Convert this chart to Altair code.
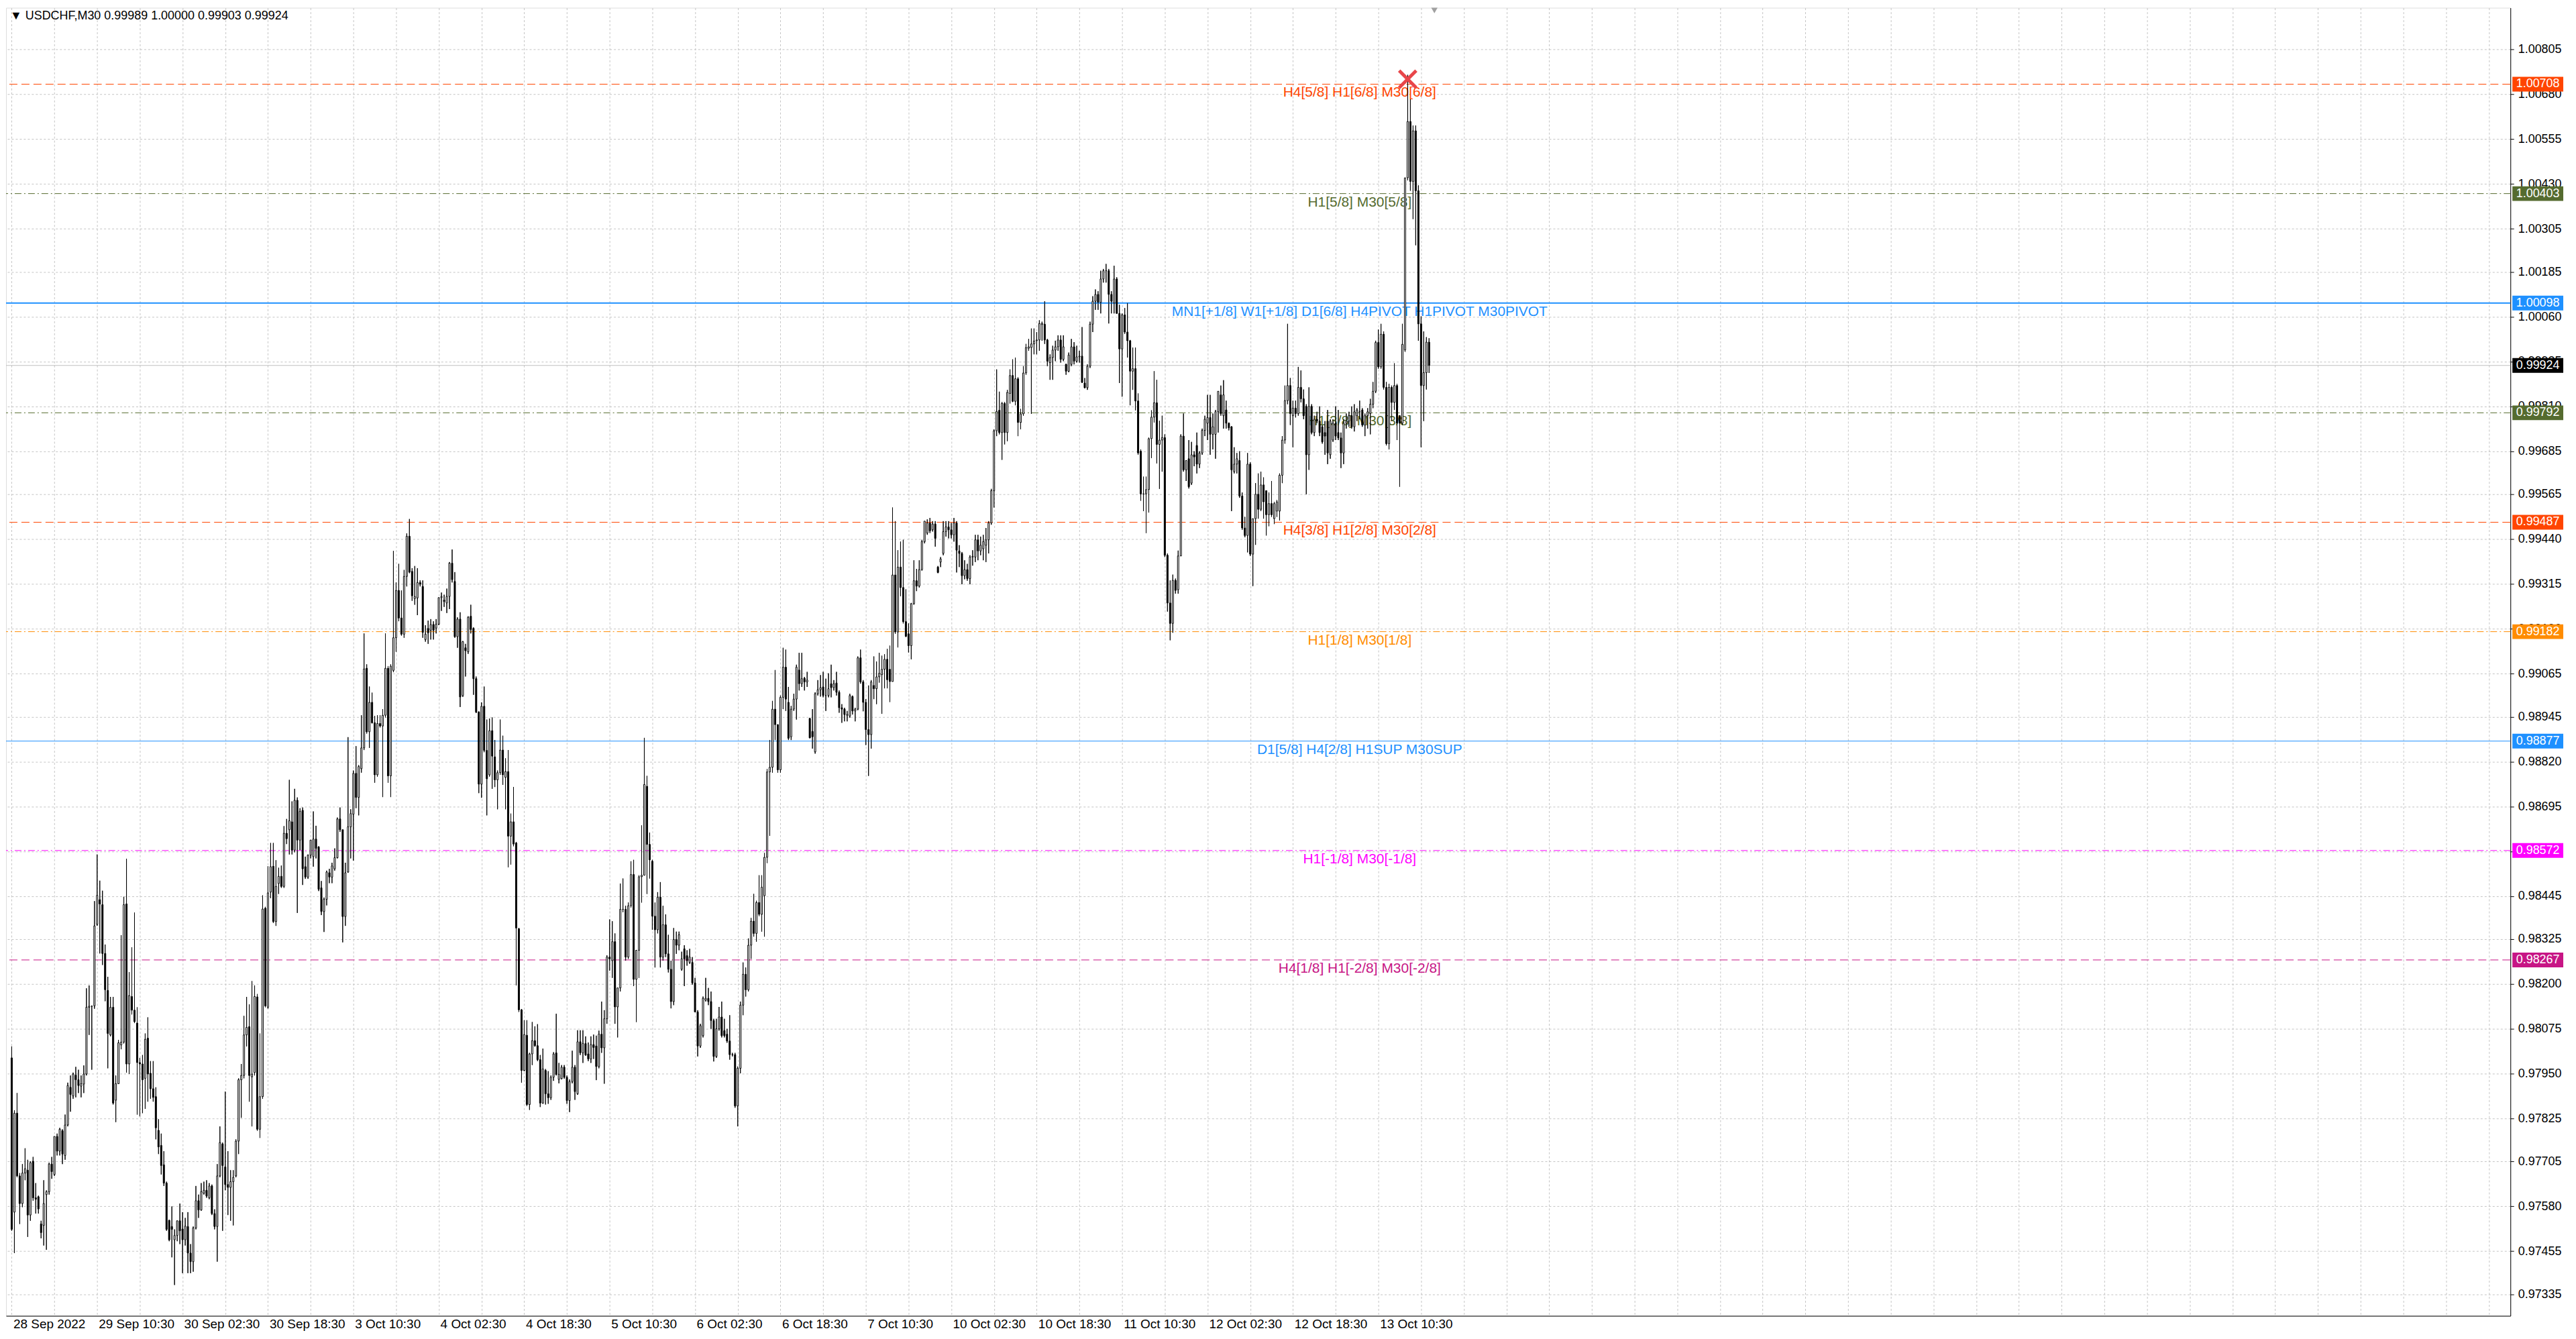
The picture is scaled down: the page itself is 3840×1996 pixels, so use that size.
import json
import numpy as np
import pandas as pd
import altair as alt

# ---------------- data: USDCHF M30 candles (bar index 0 = 28 Sep 2022 18:30) ----------------
OPEN = [
0.97994, 0.97564, 0.97840, 0.97665, 0.97588, 0.97673, 0.97681, 0.97556, 0.97706, 0.97604,
0.97607, 0.97531, 0.97527, 0.97613, 0.97621, 0.97698, 0.97669, 0.97775, 0.97734, 0.97791,
0.97722, 0.97807, 0.97912, 0.97888, 0.97946, 0.97933, 0.97915, 0.97921, 0.97949, 0.98135,
0.98138, 0.98139, 0.98366, 0.98435, 0.98421, 0.98285, 0.98182, 0.98058, 0.98135, 0.97876,
0.97922, 0.98030, 0.98038, 0.98423, 0.97977, 0.98165, 0.98127, 0.98091, 0.97981, 0.97977,
0.97937, 0.98049, 0.97951, 0.97908, 0.97886, 0.97792, 0.97750, 0.97696, 0.97645, 0.97541,
0.97524, 0.97487, 0.97499, 0.97540, 0.97517, 0.97487, 0.97524, 0.97450, 0.97426, 0.97520,
0.97596, 0.97570, 0.97617, 0.97625, 0.97604, 0.97637, 0.97560, 0.97524, 0.97665, 0.97754,
0.97690, 0.97641, 0.97633, 0.97649, 0.97665, 0.97762, 0.97933, 0.97945, 0.98058, 0.98081,
0.97941, 0.97953, 0.98164, 0.97795, 0.97886, 0.98411, 0.98135, 0.98456, 0.98528, 0.98374,
0.98480, 0.98500, 0.98472, 0.98620, 0.98630, 0.98652, 0.98573, 0.98712, 0.98601, 0.98684,
0.98527, 0.98498, 0.98559, 0.98555, 0.98604, 0.98582, 0.98468, 0.98402, 0.98436, 0.98510,
0.98498, 0.98521, 0.98552, 0.98660, 0.98630, 0.98388, 0.98512, 0.98638, 0.98673, 0.98787,
0.98720, 0.98800, 0.98858, 0.99080, 0.98903, 0.98985, 0.98928, 0.98783, 0.98926, 0.98919,
0.98949, 0.99080, 0.98780, 0.99074, 0.99165, 0.99297, 0.99220, 0.99175, 0.99336, 0.99448,
0.99350, 0.99274, 0.99276, 0.99319, 0.99308, 0.99160, 0.99191, 0.99186, 0.99202, 0.99192,
0.99203, 0.99277, 0.99270, 0.99262, 0.99280, 0.99373, 0.99322, 0.99168, 0.99217, 0.99004,
0.99137, 0.99126, 0.99225, 0.99191, 0.99051, 0.98958, 0.98757, 0.98974, 0.98851, 0.98783,
0.98906, 0.98833, 0.98769, 0.98789, 0.98852, 0.98776, 0.98792, 0.98612, 0.98652, 0.98593,
0.98354, 0.98128, 0.97959, 0.98057, 0.97864, 0.98005, 0.98042, 0.98028, 0.97989, 0.97868,
0.97959, 0.97894, 0.97883, 0.97940, 0.98008, 0.97934, 0.97936, 0.97968, 0.97940, 0.97875,
0.97928, 0.97968, 0.97894, 0.98039, 0.98008, 0.98034, 0.98005, 0.97991, 0.98031, 0.98027,
0.97970, 0.98060, 0.98022, 0.98103, 0.98275, 0.98265, 0.98318, 0.98136, 0.98189, 0.98408,
0.98408, 0.98275, 0.98418, 0.98505, 0.98213, 0.98294, 0.98499, 0.98503, 0.98751, 0.98589,
0.98542, 0.98389, 0.98351, 0.98442, 0.98275, 0.98365, 0.98284, 0.98241, 0.98151, 0.98324,
0.98308, 0.98241, 0.98298, 0.98279, 0.98260, 0.98260, 0.98203, 0.98122, 0.98027, 0.98056,
0.98155, 0.98160, 0.98151, 0.98098, 0.97998, 0.98075, 0.98108, 0.98070, 0.98060, 0.98041,
0.98003, 0.98003, 0.97860, 0.97965, 0.98141, 0.98227, 0.98184, 0.98308, 0.98375, 0.98341,
0.98427, 0.98394, 0.98446, 0.98553, 0.98791, 0.98804, 0.98966, 0.98923, 0.98797, 0.98999,
0.99083, 0.98985, 0.98889, 0.98966, 0.98994, 0.99075, 0.99037, 0.99052, 0.99042, 0.98940,
0.98904, 0.98847, 0.99009, 0.99020, 0.99028, 0.99004, 0.99004, 0.99037, 0.99026, 0.99039,
0.99013, 0.98970, 0.98966, 0.98949, 0.98947, 0.99001, 0.98961, 0.98966, 0.99109, 0.99042,
0.98985, 0.98909, 0.98895, 0.99032, 0.99023, 0.99056, 0.99062, 0.99077, 0.99105, 0.99077,
0.99043, 0.99340, 0.99181, 0.99362, 0.99305, 0.99210, 0.99176, 0.99143, 0.99260, 0.99324,
0.99309, 0.99355, 0.99433, 0.99457, 0.99485, 0.99466, 0.99482, 0.99362, 0.99376, 0.99400,
0.99461, 0.99474, 0.99466, 0.99452, 0.99485, 0.99407, 0.99400, 0.99338, 0.99355, 0.99330,
0.99390, 0.99390, 0.99438, 0.99407, 0.99413, 0.99423, 0.99438, 0.99485, 0.99575, 0.99742,
0.99799, 0.99737, 0.99818, 0.99737, 0.99846, 0.99896, 0.99824, 0.99887, 0.99765, 0.99789,
0.99903, 0.99972, 0.99974, 0.99984, 0.99993, 0.99995, 1.00038, 1.00039, 0.99995, 0.99932,
0.99946, 0.99967, 0.99976, 0.99995, 0.99941, 0.99927, 0.99908, 0.99927, 0.99976, 0.99936,
0.99948, 0.99950, 0.99875, 0.99862, 0.99922, 1.00039, 1.00103, 1.00122, 1.00100, 1.00165,
1.00188, 1.00188, 1.00122, 1.00098, 1.00165, 1.00069, 0.99970, 1.00065, 1.00017, 0.99993,
0.99908, 0.99915, 0.99825, 0.99685, 0.99566, 0.99566, 0.99578, 0.99720, 0.99780, 0.99820,
0.99704, 0.99716, 0.99723, 0.99395, 0.99262, 0.99205, 0.99325, 0.99299, 0.99393, 0.99727,
0.99633, 0.99664, 0.99596, 0.99675, 0.99701, 0.99649, 0.99680, 0.99743, 0.99763, 0.99779,
0.99732, 0.99732, 0.99795, 0.99842, 0.99784, 0.99800, 0.99763, 0.99753, 0.99628, 0.99649,
0.99659, 0.99560, 0.99471, 0.99450, 0.99649, 0.99398, 0.99497, 0.99565, 0.99523, 0.99591,
0.99575, 0.99508, 0.99539, 0.99497, 0.99518, 0.99518, 0.99618, 0.99716, 0.99826, 0.99868,
0.99784, 0.99805, 0.99790, 0.99863, 0.99831, 0.99810, 0.99675, 0.99810, 0.99737, 0.99774,
0.99769, 0.99753, 0.99737, 0.99769, 0.99675, 0.99716, 0.99763, 0.99737, 0.99722, 0.99680,
0.99763, 0.99769, 0.99784, 0.99753, 0.99784, 0.99795, 0.99800, 0.99758, 0.99784, 0.99790,
0.99816, 0.99852, 0.99988, 0.99920, 1.00011, 0.99863, 0.99706, 0.99863, 0.99821, 0.99868,
0.99784, 0.99763, 0.99967, 1.00447, 1.00604, 1.00437, 1.00578, 1.00411, 1.00040, 0.99868,
0.99904, 0.99989,
]

HIGH = [
0.98026, 0.97848, 0.97896, 0.97673, 0.97698, 0.97742, 0.97710, 0.97706, 0.97718, 0.97645,
0.97610, 0.97540, 0.97653, 0.97625, 0.97702, 0.97718, 0.97775, 0.97783, 0.97799, 0.97795,
0.97836, 0.97925, 0.97945, 0.97953, 0.97969, 0.97961, 0.97945, 0.97973, 0.98188, 0.98196,
0.98140, 0.98431, 0.98561, 0.98488, 0.98460, 0.98310, 0.98220, 0.98164, 0.98164, 0.97945,
0.98044, 0.98336, 0.98443, 0.98549, 0.98233, 0.98302, 0.98399, 0.98135, 0.97994, 0.98002,
0.98062, 0.98107, 0.97985, 0.97985, 0.97912, 0.97823, 0.97783, 0.97734, 0.97649, 0.97543,
0.97580, 0.97516, 0.97540, 0.97588, 0.97564, 0.97548, 0.97564, 0.97475, 0.97524, 0.97637,
0.97613, 0.97645, 0.97649, 0.97653, 0.97645, 0.97641, 0.97572, 0.97698, 0.97803, 0.97758,
0.97900, 0.97734, 0.97681, 0.97681, 0.97767, 0.97937, 0.97977, 0.98111, 0.98164, 0.98143,
0.98208, 0.98196, 0.98172, 0.98062, 0.98447, 0.98415, 0.98528, 0.98593, 0.98593, 0.98545,
0.98524, 0.98530, 0.98640, 0.98660, 0.98769, 0.98709, 0.98744, 0.98720, 0.98690, 0.98692,
0.98555, 0.98561, 0.98601, 0.98681, 0.98641, 0.98584, 0.98487, 0.98441, 0.98516, 0.98521,
0.98538, 0.98578, 0.98664, 0.98692, 0.98630, 0.98538, 0.98888, 0.98687, 0.98795, 0.98863,
0.98810, 0.98949, 0.99177, 0.99091, 0.99029, 0.99012, 0.98947, 0.98949, 0.98949, 0.98966,
0.99177, 0.99086, 0.99091, 0.99407, 0.99319, 0.99371, 0.99297, 0.99354, 0.99456, 0.99496,
0.99359, 0.99365, 0.99359, 0.99325, 0.99325, 0.99200, 0.99213, 0.99217, 0.99211, 0.99217,
0.99277, 0.99291, 0.99285, 0.99302, 0.99376, 0.99411, 0.99348, 0.99222, 0.99236, 0.99156,
0.99148, 0.99225, 0.99257, 0.99194, 0.99057, 0.98960, 0.98985, 0.99029, 0.98937, 0.98940,
0.98943, 0.98880, 0.98795, 0.98937, 0.98892, 0.98829, 0.98852, 0.98675, 0.98749, 0.98596,
0.98356, 0.98130, 0.98099, 0.98099, 0.98008, 0.98094, 0.98082, 0.98088, 0.98002, 0.98020,
0.97963, 0.97957, 0.97945, 0.98010, 0.98117, 0.97980, 0.97974, 0.97974, 0.97945, 0.97934,
0.98014, 0.97974, 0.98071, 0.98071, 0.98071, 0.98054, 0.98037, 0.98054, 0.98059, 0.98056,
0.98070, 0.98151, 0.98127, 0.98280, 0.98380, 0.98375, 0.98341, 0.98189, 0.98480, 0.98494,
0.98418, 0.98427, 0.98542, 0.98546, 0.98294, 0.98503, 0.98642, 0.98886, 0.98780, 0.98622,
0.98546, 0.98427, 0.98456, 0.98484, 0.98418, 0.98394, 0.98337, 0.98265, 0.98356, 0.98346,
0.98346, 0.98290, 0.98308, 0.98294, 0.98298, 0.98275, 0.98217, 0.98127, 0.98089, 0.98165,
0.98217, 0.98189, 0.98179, 0.98103, 0.98103, 0.98136, 0.98151, 0.98103, 0.98075, 0.98113,
0.98008, 0.98008, 0.97970, 0.98151, 0.98260, 0.98246, 0.98327, 0.98384, 0.98451, 0.98432,
0.98503, 0.98503, 0.98565, 0.98799, 0.98880, 0.98989, 0.99075, 0.98923, 0.99004, 0.99137,
0.99132, 0.99028, 0.98975, 0.99009, 0.99090, 0.99123, 0.99123, 0.99056, 0.99070, 0.98942,
0.98966, 0.99013, 0.99047, 0.99061, 0.99070, 0.99051, 0.99066, 0.99090, 0.99047, 0.99070,
0.99018, 0.98980, 0.98970, 0.98961, 0.99009, 0.99004, 0.98970, 0.99113, 0.99132, 0.99047,
0.98994, 0.99032, 0.99047, 0.99113, 0.99099, 0.99123, 0.99115, 0.99119, 0.99134, 0.99143,
0.99528, 0.99490, 0.99409, 0.99433, 0.99438, 0.99300, 0.99205, 0.99262, 0.99381, 0.99357,
0.99381, 0.99438, 0.99490, 0.99495, 0.99499, 0.99490, 0.99490, 0.99365, 0.99390, 0.99490,
0.99490, 0.99490, 0.99485, 0.99499, 0.99490, 0.99423, 0.99404, 0.99381, 0.99371, 0.99395,
0.99409, 0.99452, 0.99452, 0.99447, 0.99452, 0.99471, 0.99490, 0.99580, 0.99746, 0.99913,
0.99851, 0.99822, 0.99822, 0.99856, 0.99913, 0.99941, 0.99946, 0.99891, 0.99803, 0.99922,
0.99984, 0.99998, 1.00027, 1.00027, 1.00017, 1.00050, 1.00046, 1.00103, 0.99998, 0.99955,
0.99979, 0.99993, 1.00008, 1.00008, 1.00008, 0.99929, 0.99960, 0.99998, 0.99989, 0.99979,
0.99965, 1.00031, 0.99889, 0.99927, 1.00046, 1.00117, 1.00136, 1.00131, 1.00188, 1.00193,
1.00207, 1.00193, 1.00131, 1.00202, 1.00170, 1.00093, 1.00069, 1.00084, 1.00098, 0.99995,
0.99974, 0.99974, 0.99846, 0.99690, 0.99614, 0.99614, 0.99723, 0.99799, 0.99908, 0.99884,
0.99770, 0.99784, 0.99732, 0.99400, 0.99325, 0.99341, 0.99330, 0.99408, 0.99732, 0.99790,
0.99659, 0.99716, 0.99711, 0.99685, 0.99737, 0.99685, 0.99748, 0.99784, 0.99842, 0.99842,
0.99790, 0.99800, 0.99852, 0.99868, 0.99883, 0.99826, 0.99765, 0.99755, 0.99696, 0.99680,
0.99685, 0.99570, 0.99502, 0.99680, 0.99654, 0.99497, 0.99596, 0.99623, 0.99628, 0.99612,
0.99575, 0.99570, 0.99602, 0.99544, 0.99549, 0.99623, 0.99727, 0.99868, 1.00040, 0.99889,
0.99826, 0.99826, 0.99920, 0.99910, 0.99857, 0.99816, 0.99863, 0.99816, 0.99784, 0.99795,
0.99810, 0.99758, 0.99769, 0.99800, 0.99774, 0.99774, 0.99810, 0.99800, 0.99737, 0.99774,
0.99790, 0.99795, 0.99810, 0.99816, 0.99805, 0.99826, 0.99805, 0.99790, 0.99805, 0.99831,
0.99878, 0.99993, 1.00024, 1.00040, 1.00019, 0.99878, 0.99873, 0.99868, 0.99930, 0.99873,
0.99784, 1.00040, 1.00447, 1.00734, 1.00666, 1.00593, 1.00593, 1.00426, 1.00061, 1.00019,
1.00003, 1.00000,
]

LOW = [
0.97512, 0.97450, 0.97661, 0.97531, 0.97578, 0.97653, 0.97495, 0.97540, 0.97596, 0.97560,
0.97560, 0.97491, 0.97471, 0.97459, 0.97613, 0.97657, 0.97665, 0.97722, 0.97722, 0.97698,
0.97710, 0.97803, 0.97844, 0.97880, 0.97884, 0.97896, 0.97884, 0.97896, 0.97945, 0.98058,
0.97961, 0.98131, 0.98362, 0.98285, 0.98253, 0.98152, 0.97965, 0.98054, 0.97864, 0.97815,
0.97921, 0.98018, 0.98034, 0.97953, 0.97949, 0.98115, 0.98091, 0.97836, 0.97831, 0.97840,
0.97852, 0.97872, 0.97880, 0.97872, 0.97767, 0.97726, 0.97669, 0.97637, 0.97512, 0.97483,
0.97438, 0.97361, 0.97483, 0.97475, 0.97394, 0.97471, 0.97394, 0.97394, 0.97398, 0.97516,
0.97548, 0.97568, 0.97613, 0.97604, 0.97600, 0.97556, 0.97516, 0.97426, 0.97661, 0.97512,
0.97625, 0.97556, 0.97540, 0.97527, 0.97661, 0.97726, 0.97827, 0.97937, 0.98026, 0.97872,
0.97803, 0.97945, 0.97791, 0.97771, 0.97880, 0.98135, 0.98131, 0.98439, 0.98370, 0.98362,
0.98451, 0.98468, 0.98468, 0.98590, 0.98561, 0.98561, 0.98567, 0.98398, 0.98573, 0.98476,
0.98493, 0.98493, 0.98550, 0.98527, 0.98550, 0.98459, 0.98392, 0.98345, 0.98419, 0.98481,
0.98481, 0.98516, 0.98550, 0.98624, 0.98316, 0.98362, 0.98510, 0.98550, 0.98544, 0.98690,
0.98670, 0.98789, 0.98852, 0.98898, 0.98858, 0.98926, 0.98761, 0.98778, 0.98915, 0.98721,
0.98943, 0.98761, 0.98721, 0.99069, 0.99126, 0.99211, 0.99171, 0.99165, 0.99308, 0.99345,
0.99268, 0.99257, 0.99228, 0.99308, 0.99165, 0.99154, 0.99148, 0.99160, 0.99160, 0.99177,
0.99200, 0.99240, 0.99251, 0.99234, 0.99245, 0.99319, 0.99165, 0.99137, 0.98972, 0.99000,
0.99057, 0.99120, 0.99177, 0.99006, 0.98955, 0.98732, 0.98719, 0.98846, 0.98670, 0.98778,
0.98744, 0.98749, 0.98687, 0.98783, 0.98755, 0.98687, 0.98525, 0.98533, 0.98584, 0.98196,
0.98122, 0.97925, 0.97957, 0.97860, 0.97849, 0.97974, 0.98025, 0.97985, 0.97857, 0.97866,
0.97864, 0.97866, 0.97877, 0.97930, 0.97945, 0.97923, 0.97934, 0.97936, 0.97866, 0.97843,
0.97923, 0.97877, 0.97891, 0.98002, 0.97980, 0.98000, 0.97985, 0.97980, 0.97991, 0.97932,
0.97965, 0.98008, 0.97922, 0.98089, 0.98237, 0.98217, 0.98089, 0.98051, 0.98179, 0.98400,
0.98265, 0.98270, 0.98413, 0.98194, 0.98094, 0.98217, 0.98427, 0.98503, 0.98451, 0.98494,
0.98351, 0.98246, 0.98341, 0.98246, 0.98265, 0.98275, 0.98232, 0.98132, 0.98141, 0.98284,
0.98294, 0.98237, 0.98194, 0.98251, 0.98256, 0.98198, 0.98122, 0.97998, 0.98022, 0.98051,
0.98151, 0.98141, 0.98075, 0.97984, 0.97994, 0.98070, 0.98051, 0.98051, 0.98036, 0.97989,
0.97998, 0.97855, 0.97803, 0.97951, 0.98113, 0.98165, 0.98179, 0.98270, 0.98332, 0.98318,
0.98389, 0.98346, 0.98332, 0.98537, 0.98613, 0.98789, 0.98880, 0.98789, 0.98789, 0.98966,
0.98961, 0.98880, 0.98880, 0.98961, 0.98937, 0.99018, 0.99028, 0.99018, 0.99028, 0.98885,
0.98856, 0.98842, 0.99004, 0.99001, 0.98999, 0.98961, 0.98999, 0.98999, 0.99018, 0.99004,
0.98956, 0.98928, 0.98932, 0.98932, 0.98942, 0.98951, 0.98932, 0.98963, 0.99037, 0.98960,
0.98866, 0.98780, 0.98856, 0.98994, 0.98980, 0.99040, 0.98953, 0.99024, 0.99024, 0.98986,
0.99043, 0.99176, 0.99138, 0.99281, 0.99205, 0.99167, 0.99124, 0.99105, 0.99257, 0.99295,
0.99305, 0.99352, 0.99428, 0.99452, 0.99457, 0.99461, 0.99419, 0.99345, 0.99362, 0.99395,
0.99447, 0.99442, 0.99442, 0.99433, 0.99347, 0.99362, 0.99314, 0.99328, 0.99324, 0.99314,
0.99366, 0.99376, 0.99381, 0.99395, 0.99381, 0.99376, 0.99400, 0.99480, 0.99528, 0.99727,
0.99732, 0.99661, 0.99704, 0.99713, 0.99818, 0.99822, 0.99813, 0.99727, 0.99746, 0.99784,
0.99898, 0.99965, 0.99789, 0.99955, 0.99955, 0.99965, 0.99993, 0.99984, 0.99922, 0.99884,
0.99884, 0.99936, 0.99965, 0.99932, 0.99936, 0.99898, 0.99905, 0.99922, 0.99927, 0.99932,
0.99932, 0.99875, 0.99860, 0.99856, 0.99917, 1.00017, 1.00079, 1.00079, 1.00069, 1.00155,
1.00155, 1.00041, 1.00069, 1.00069, 1.00069, 0.99875, 0.99837, 1.00012, 0.99946, 0.99813,
0.99856, 0.99799, 0.99675, 0.99547, 0.99518, 0.99457, 0.99514, 0.99666, 0.99765, 0.99651,
0.99580, 0.99628, 0.99390, 0.99238, 0.99158, 0.99179, 0.99288, 0.99288, 0.99393, 0.99628,
0.99602, 0.99581, 0.99591, 0.99643, 0.99623, 0.99638, 0.99675, 0.99727, 0.99716, 0.99675,
0.99690, 0.99664, 0.99737, 0.99784, 0.99748, 0.99748, 0.99743, 0.99518, 0.99623, 0.99623,
0.99555, 0.99466, 0.99445, 0.99403, 0.99393, 0.99309, 0.99424, 0.99497, 0.99518, 0.99497,
0.99450, 0.99476, 0.99502, 0.99482, 0.99502, 0.99492, 0.99596, 0.99706, 0.99816, 0.99758,
0.99696, 0.99779, 0.99784, 0.99821, 0.99774, 0.99565, 0.99633, 0.99732, 0.99727, 0.99763,
0.99727, 0.99706, 0.99675, 0.99649, 0.99664, 0.99711, 0.99716, 0.99716, 0.99638, 0.99649,
0.99748, 0.99753, 0.99748, 0.99740, 0.99769, 0.99774, 0.99753, 0.99727, 0.99748, 0.99732,
0.99805, 0.99847, 0.99915, 0.99915, 0.99857, 0.99701, 0.99690, 0.99769, 0.99800, 0.99716,
0.99586, 0.99758, 0.99962, 1.00440, 1.00411, 1.00332, 1.00259, 0.99993, 0.99696, 0.99769,
0.99857, 0.99903,
]

CLOSE = [
0.97516, 0.97840, 0.97665, 0.97588, 0.97673, 0.97685, 0.97556, 0.97702, 0.97604, 0.97600,
0.97573, 0.97507, 0.97588, 0.97621, 0.97698, 0.97677, 0.97775, 0.97734, 0.97795, 0.97726,
0.97807, 0.97917, 0.97892, 0.97949, 0.97933, 0.97917, 0.97922, 0.97949, 0.98135, 0.98138,
0.98138, 0.98362, 0.98447, 0.98423, 0.98285, 0.98184, 0.98062, 0.98135, 0.97868, 0.97922,
0.98036, 0.98038, 0.98421, 0.97977, 0.98168, 0.98127, 0.98095, 0.97981, 0.97977, 0.97933,
0.98046, 0.97949, 0.97908, 0.97884, 0.97799, 0.97746, 0.97694, 0.97645, 0.97516, 0.97487,
0.97516, 0.97499, 0.97540, 0.97512, 0.97487, 0.97525, 0.97450, 0.97426, 0.97520, 0.97596,
0.97570, 0.97621, 0.97625, 0.97609, 0.97637, 0.97560, 0.97524, 0.97665, 0.97758, 0.97694,
0.97641, 0.97633, 0.97649, 0.97661, 0.97762, 0.97933, 0.97945, 0.98058, 0.98079, 0.97945,
0.97949, 0.98165, 0.97795, 0.97886, 0.98409, 0.98139, 0.98454, 0.98527, 0.98374, 0.98472,
0.98500, 0.98472, 0.98620, 0.98605, 0.98655, 0.98573, 0.98712, 0.98601, 0.98681, 0.98521,
0.98498, 0.98559, 0.98601, 0.98604, 0.98578, 0.98464, 0.98402, 0.98436, 0.98512, 0.98498,
0.98529, 0.98552, 0.98660, 0.98630, 0.98388, 0.98510, 0.98638, 0.98675, 0.98787, 0.98720,
0.98806, 0.98858, 0.99078, 0.98903, 0.98985, 0.98928, 0.98783, 0.98926, 0.98919, 0.98949,
0.99080, 0.98780, 0.99086, 0.99165, 0.99297, 0.99220, 0.99175, 0.99336, 0.99448, 0.99348,
0.99282, 0.99280, 0.99319, 0.99314, 0.99180, 0.99175, 0.99179, 0.99202, 0.99186, 0.99203,
0.99277, 0.99280, 0.99266, 0.99280, 0.99373, 0.99327, 0.99168, 0.99217, 0.99000, 0.99154,
0.99129, 0.99222, 0.99188, 0.99051, 0.98958, 0.98757, 0.98974, 0.98851, 0.98772, 0.98906,
0.98835, 0.98769, 0.98789, 0.98852, 0.98783, 0.98792, 0.98612, 0.98652, 0.98590, 0.98356,
0.98128, 0.97959, 0.98059, 0.97864, 0.98005, 0.98042, 0.98028, 0.97989, 0.97868, 0.97963,
0.97894, 0.97883, 0.97940, 0.98005, 0.97948, 0.97948, 0.97968, 0.97940, 0.97875, 0.97928,
0.97968, 0.97900, 0.98039, 0.98008, 0.98034, 0.98002, 0.97991, 0.98031, 0.98023, 0.97970,
0.98060, 0.98022, 0.98103, 0.98275, 0.98270, 0.98318, 0.98136, 0.98189, 0.98408, 0.98408,
0.98275, 0.98418, 0.98505, 0.98213, 0.98294, 0.98499, 0.98503, 0.98756, 0.98589, 0.98546,
0.98389, 0.98351, 0.98442, 0.98275, 0.98365, 0.98284, 0.98241, 0.98151, 0.98324, 0.98308,
0.98337, 0.98270, 0.98270, 0.98265, 0.98275, 0.98203, 0.98122, 0.98027, 0.98084, 0.98160,
0.98160, 0.98151, 0.98098, 0.97998, 0.98075, 0.98108, 0.98056, 0.98056, 0.98041, 0.98003,
0.98003, 0.97860, 0.97965, 0.98141, 0.98227, 0.98184, 0.98308, 0.98375, 0.98341, 0.98427,
0.98394, 0.98470, 0.98553, 0.98791, 0.98804, 0.98966, 0.98923, 0.98797, 0.98999, 0.99083,
0.98994, 0.98885, 0.98966, 0.98994, 0.99083, 0.99037, 0.99051, 0.99042, 0.99047, 0.98886,
0.98889, 0.99009, 0.99020, 0.99026, 0.99004, 0.99004, 0.99023, 0.99026, 0.99037, 0.99013,
0.98970, 0.98966, 0.98951, 0.98951, 0.99004, 0.98961, 0.98966, 0.99109, 0.99042, 0.98985,
0.98909, 0.98895, 0.99042, 0.99023, 0.99056, 0.99066, 0.99077, 0.99105, 0.99048, 0.99043,
0.99340, 0.99181, 0.99362, 0.99305, 0.99210, 0.99169, 0.99143, 0.99260, 0.99324, 0.99309,
0.99355, 0.99433, 0.99490, 0.99485, 0.99463, 0.99482, 0.99442, 0.99347, 0.99385, 0.99461,
0.99474, 0.99466, 0.99452, 0.99485, 0.99409, 0.99400, 0.99338, 0.99355, 0.99330, 0.99390,
0.99392, 0.99438, 0.99407, 0.99423, 0.99433, 0.99438, 0.99485, 0.99575, 0.99742, 0.99796,
0.99737, 0.99818, 0.99737, 0.99849, 0.99896, 0.99824, 0.99887, 0.99765, 0.99789, 0.99903,
0.99974, 0.99976, 0.99984, 0.99992, 0.99995, 1.00041, 1.00041, 0.99995, 0.99936, 0.99946,
0.99967, 0.99976, 0.99995, 0.99941, 0.99976, 0.99908, 0.99953, 0.99976, 0.99936, 0.99948,
0.99950, 0.99877, 0.99862, 0.99922, 1.00039, 1.00103, 1.00122, 1.00100, 1.00165, 1.00188,
1.00188, 1.00122, 1.00103, 1.00165, 1.00069, 0.99970, 1.00065, 1.00017, 0.99993, 0.99908,
0.99915, 0.99825, 0.99680, 0.99566, 0.99566, 0.99578, 0.99720, 0.99780, 0.99820, 0.99704,
0.99716, 0.99723, 0.99395, 0.99262, 0.99205, 0.99325, 0.99297, 0.99393, 0.99727, 0.99633,
0.99659, 0.99586, 0.99675, 0.99669, 0.99649, 0.99680, 0.99743, 0.99774, 0.99779, 0.99732,
0.99753, 0.99795, 0.99852, 0.99790, 0.99842, 0.99763, 0.99750, 0.99633, 0.99649, 0.99664,
0.99560, 0.99471, 0.99450, 0.99649, 0.99398, 0.99497, 0.99565, 0.99523, 0.99591, 0.99544,
0.99508, 0.99539, 0.99508, 0.99539, 0.99544, 0.99618, 0.99716, 0.99826, 0.99868, 0.99790,
0.99805, 0.99790, 0.99863, 0.99831, 0.99784, 0.99675, 0.99810, 0.99737, 0.99774, 0.99769,
0.99737, 0.99711, 0.99727, 0.99680, 0.99769, 0.99763, 0.99727, 0.99722, 0.99680, 0.99763,
0.99769, 0.99784, 0.99753, 0.99795, 0.99800, 0.99795, 0.99758, 0.99784, 0.99795, 0.99816,
0.99852, 0.99988, 0.99920, 1.00011, 0.99863, 0.99706, 0.99863, 0.99821, 0.99868, 0.99763,
0.99763, 0.99983, 1.00447, 1.00604, 1.00437, 1.00578, 1.00411, 1.00040, 0.99868, 0.99904,
0.99989, 0.99924,
]

# price-level lines (Murrey-math style levels) and their labels
LEVEL_PRICES = [1.00708, 1.00403, 1.00098, 0.99792, 0.99487, 0.99182, 0.98877, 0.98572, 0.98267]
LEVEL_NAMES = [
    "H4[5/8] H1[6/8] M30[6/8]",
    "H1[5/8] M30[5/8]",
    "MN1[+1/8] W1[+1/8] D1[6/8] H4PIVOT H1PIVOT M30PIVOT",
    "H1[3/8] M30[3/8]",
    "H4[3/8] H1[2/8] M30[2/8]",
    "H1[1/8] M30[1/8]",
    "D1[5/8] H4[2/8] H1SUP M30SUP",
    "H1[-1/8] M30[-1/8]",
    "H4[1/8] H1[-2/8] M30[-2/8]",
]
LEVEL_COLORS = ["#FF4500", "#556B2F", "#1E90FF", "#556B2F", "#FF4500",
                "#FF8C00", "#1E90FF", "#FF00FF", "#C71585"]
LEVEL_STYLES = ["dash", "dashdot", "solid2", "dashdot", "dash",
                "dashdot", "solid", "dashdot", "dash"]
LEVEL_LABEL_BAR = 505

CURRENT_PRICE = 0.99924

Y_TICKS = [1.00805, 1.00680, 1.00555, 1.00430, 1.00305, 1.00185, 1.00060, 0.99935,
           0.99810, 0.99685, 0.99565, 0.99440, 0.99315, 0.99190, 0.99065, 0.98945,
           0.98820, 0.98695, 0.98570, 0.98445, 0.98325, 0.98200, 0.98075, 0.97950,
           0.97825, 0.97705, 0.97580, 0.97455, 0.97335]

TIME_LABELS = ["28 Sep 2022", "29 Sep 10:30", "30 Sep 02:30", "30 Sep 18:30", "3 Oct 10:30",
               "4 Oct 02:30", "4 Oct 18:30", "5 Oct 10:30", "6 Oct 02:30", "6 Oct 18:30",
               "7 Oct 10:30", "10 Oct 02:30", "10 Oct 18:30", "11 Oct 10:30", "12 Oct 02:30",
               "12 Oct 18:30", "13 Oct 10:30"]
LABEL_EVERY = 32   # bars between time labels
GRID_EVERY = 16    # bars between vertical grid lines

MARKER_BAR = [523]
MARKER_PRICE = [1.00722]
SHIFT_BAR = [533]

SYMBOL = "USDCHF,M30"

# ---------------- layout ----------------
W, H = 3743, 1955
X_DOMAIN = [-0.875, 934.875]      # exactly 4 px per bar, bar centres on half pixels
Y_DOMAIN = [0.97275, 1.00921]
FONT = "Liberation Sans"

n = min(len(OPEN), len(HIGH), len(LOW), len(CLOSE))
df = pd.DataFrame({"i": np.arange(n), "o": OPEN[:n], "h": HIGH[:n], "l": LOW[:n], "c": CLOSE[:n]})
df["lo"] = df[["l", "o", "c"]].min(axis=1)
df["hi"] = df[["h", "o", "c"]].max(axis=1)

xs = alt.Scale(domain=X_DOMAIN, nice=False, zero=False)
ys = alt.Scale(domain=Y_DOMAIN, nice=False, zero=False)

last_label = LABEL_EVERY * (len(TIME_LABELS) - 1)
label_expr = (f"(datum.value % {LABEL_EVERY} === 0 && datum.value <= {last_label}) ? "
              f"{json.dumps(TIME_LABELS)}[datum.value / {LABEL_EVERY}] : ''")

X_AX = dict(values=list(range(0, int(X_DOMAIN[1]) + 1, GRID_EVERY)), labelExpr=label_expr,
            orient="bottom", grid=True, gridColor="#c4c4c4", gridDash=[3, 3], gridWidth=1,
            domainColor="black", domainWidth=1, ticks=False, labelAlign="left",
            labelBaseline="top", labelPadding=3, labelOffset=2, labelFont=FONT,
            labelFontSize=19, labelColor="black", labelOverlap=False, labelFlush=False,
            title=None)
Y_AX = dict(values=Y_TICKS, format=".5f", orient="right", grid=True, gridColor="#c4c4c4",
            gridDash=[3, 3], gridWidth=1, domainColor="black", domainWidth=1,
            tickColor="black", tickSize=5, labelPadding=6, labelFont=FONT,
            labelFontSize=18, labelColor="black", labelOverlap=False, labelFlush=False,
            labelBaseline="middle", title=None)


def X(field):
    return alt.X(field, scale=xs, axis=alt.Axis(**X_AX))


def Y(field):
    return alt.Y(field, scale=ys, axis=alt.Axis(**Y_AX))


layers = []

# wicks first: they carry both axes
layers.append(alt.Chart(df).mark_rule(color="black", strokeWidth=1)
              .encode(x=X("i:Q"), y=Y("lo:Q"), y2="hi:Q"))

# level lines
DASHES = {"dash": [12, 6], "dashdot": [10, 4, 2, 4]}
for p, col, st in zip(LEVEL_PRICES, LEVEL_COLORS, LEVEL_STYLES):
    kw = dict(color=col, strokeWidth=2 if st == "solid2" else 1)
    if st in DASHES:
        kw["strokeDash"] = DASHES[st]
    layers.append(alt.Chart(pd.DataFrame({"p": [p]})).mark_rule(**kw).encode(y=Y("p:Q")))

# current price line
layers.append(alt.Chart(pd.DataFrame({"p": [CURRENT_PRICE]}))
              .mark_rule(color="#c0c0c0", strokeWidth=1).encode(y=Y("p:Q")))

# level labels
lab_df = pd.DataFrame({"x": [LEVEL_LABEL_BAR] * len(LEVEL_PRICES), "p": LEVEL_PRICES,
                       "t": LEVEL_NAMES, "col": LEVEL_COLORS})
layers.append(alt.Chart(lab_df).mark_text(align="center", baseline="top", dy=2, font=FONT, fontSize=21)
              .encode(x=X("x:Q"), y=Y("p:Q"), text="t:N", color=alt.Color("col:N", scale=None)))

# wicks again above the labels, then bodies
layers.append(alt.Chart(df).mark_rule(color="black", strokeWidth=1)
              .encode(x=X("i:Q"), y=Y("lo:Q"), y2="hi:Q"))
layers.append(alt.Chart(df).mark_bar(width=2, stroke="black", strokeWidth=1)
              .encode(x=X("i:Q"), y=Y("o:Q"), y2="c:Q",
                      fill=alt.condition("datum.c >= datum.o", alt.value("white"), alt.value("black"))))

# red cross marker at the spike
layers.append(alt.Chart(pd.DataFrame({"i": MARKER_BAR, "p": MARKER_PRICE}))
              .mark_point(shape="M-1,-1L1,1M1,-1L-1,1", size=650, strokeWidth=5,
                          color="#e8464a", filled=False, opacity=1)
              .encode(x=X("i:Q"), y=Y("p:Q")))

# price boxes on the right axis
box_prices = LEVEL_PRICES + [CURRENT_PRICE]
box_colors = LEVEL_COLORS + ["#000000"]
box_df = pd.DataFrame({"p": box_prices, "col": box_colors,
                       "lbl": [f"{v:.5f}" for v in box_prices]})
layers.append(alt.Chart(box_df).mark_rule(strokeWidth=22, strokeCap="butt")
              .encode(x=alt.value(W + 3), x2=alt.value(W + 79),
                      y=Y("p:Q"), color=alt.Color("col:N", scale=None)))
layers.append(alt.Chart(box_df).mark_text(align="center", baseline="middle", font=FONT,
                                          fontSize=18, color="white")
              .encode(x=alt.value(W + 41), y=Y("p:Q"), text="lbl:N"))

# header text
header = f"\u25BC {SYMBOL}  {OPEN[n-1]:.5f} {HIGH[n-1]:.5f} {LOW[n-1]:.5f} {CLOSE[n-1]:.5f}"
layers.append(alt.Chart(pd.DataFrame({"t": [header]}))
              .mark_text(align="left", baseline="middle", font=FONT, fontSize=18, color="black")
              .encode(x=alt.value(6), y=alt.value(12), text="t:N"))

# chart-shift marker at the top
layers.append(alt.Chart(pd.DataFrame({"i": SHIFT_BAR}))
              .mark_point(shape="triangle-down", filled=True, color="#a0a0a0", size=90, opacity=1)
              .encode(x=X("i:Q"), y=alt.value(4)))

chart = (alt.layer(*layers)
         .properties(width=W, height=H, padding={"left": 0, "top": 0, "right": 0, "bottom": 0})
         .configure_view(stroke="black", strokeWidth=1)
         .configure(background="white"))

chart.save("out.html", embed_options={"renderer": "svg", "actions": False})
